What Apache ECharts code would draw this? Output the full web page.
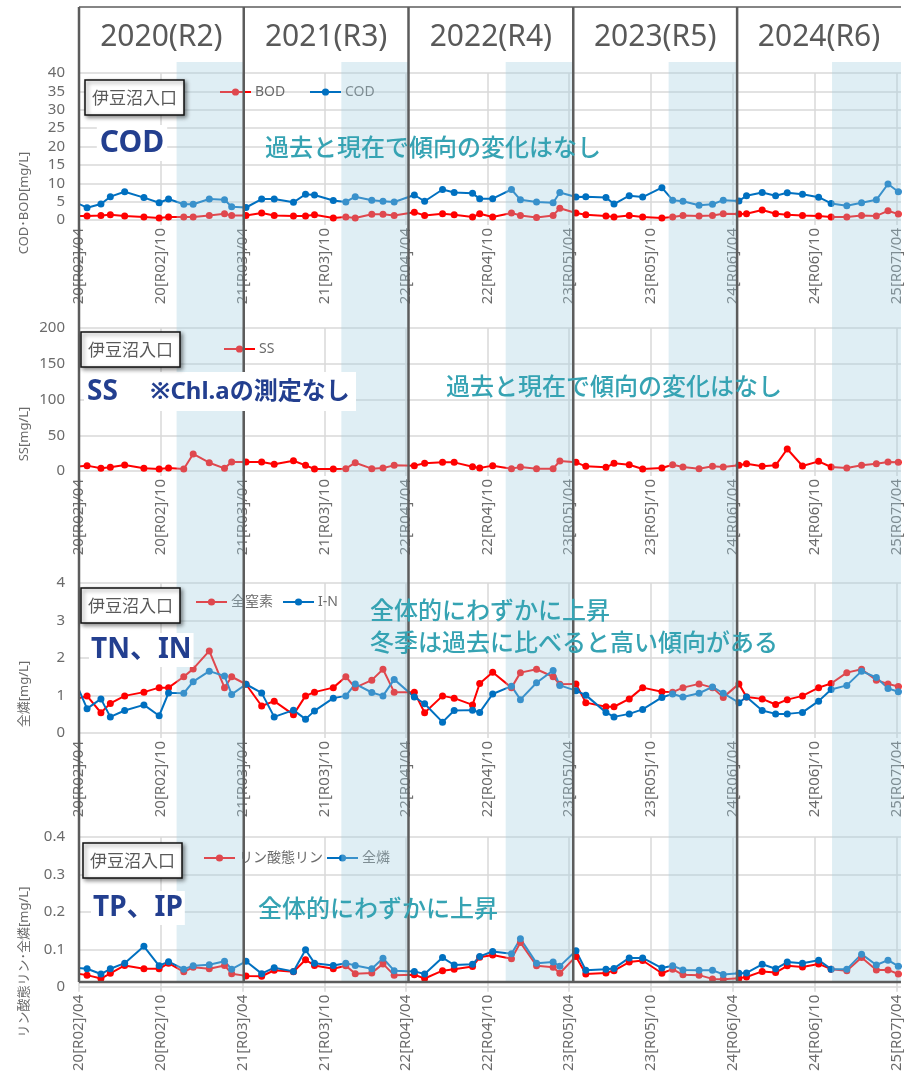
<!DOCTYPE html>
<html><head><meta charset="utf-8">
<script src="https://cdn.jsdelivr.net/npm/echarts@6/dist/echarts.min.js"></script>
<style>html,body{margin:0;padding:0;background:#fff}#c{width:904px;height:1074px}</style>
</head><body><div id="c"></div>
<script>
// ---------- data ----------
const sampleDates = [
 '2020-03-10',
 '2020-04-19','2020-05-20','2020-06-10','2020-07-12','2020-08-24','2020-09-27','2020-10-18','2020-11-21','2020-12-12','2021-01-17','2021-02-20','2021-03-08',
 '2021-04-09','2021-05-14','2021-06-11','2021-07-24','2021-08-20','2021-09-09','2021-10-21','2021-11-18','2021-12-09','2022-01-15','2022-02-09','2022-03-06',
 '2022-04-20','2022-05-13','2022-06-22','2022-07-18','2022-08-28','2022-09-13','2022-10-12','2022-11-23','2022-12-13','2023-01-18','2023-02-24','2023-03-11',
 '2023-04-16','2023-05-08','2023-06-22','2023-07-10','2023-08-13','2023-09-12','2023-10-25','2023-11-18','2023-12-11','2024-01-16','2024-02-15','2024-03-10',
 '2024-04-14','2024-05-01','2024-06-05','2024-07-05','2024-07-31','2024-09-03','2024-10-09','2024-11-06','2024-12-11','2025-01-13','2025-02-15','2025-03-13',
 '2025-04-05'
];
const bod = [1.1,
 1.1,1.25,1.45,1.1,0.8,0.55,0.8,0.8,0.8,1.25,1.7,1.25,
 1.25,1.9,1.25,1.1,1.1,1.45,0.55,0.8,0.55,1.55,1.55,1.25,
 2.1,1.25,1.7,1.4,0.8,1.7,0.8,1.9,1.25,0.7,1.25,3.2,
 1.9,1.45,1.1,0.8,1.25,0.8,0.55,0.8,1.25,1.1,1.25,1.7,
 1.6,1.7,2.7,1.7,1.45,1.25,1.1,0.8,0.8,1.25,1.1,2.5,
 1.6];
const cod = [5.6,
 3.35,4.35,6.35,7.7,6.1,4.7,5.7,4.3,4.3,5.7,5.5,3.6,
 3.4,5.7,5.7,4.8,7.0,6.8,5.3,4.9,6.35,5.4,5.1,4.9,
 6.8,5.1,8.3,7.5,7.25,5.8,5.8,8.3,5.5,4.9,4.7,7.5,
 6.25,6.35,6.15,4.35,6.6,6.25,8.8,5.4,5.1,4.0,4.3,5.4,
 5.2,6.6,7.5,6.6,7.4,7.0,6.2,4.5,3.9,4.7,5.5,9.8,
 7.7];
const ss = [5,
 7.5,3.7,5.1,8.4,3.7,2.8,4.2,2.8,23.8,11.6,3.7,12.6,
 12.6,12.6,9.3,14.4,7.9,2.8,2.8,3.3,11.6,3.3,4.2,7.9,
 7.5,10.7,12.1,12.1,6,4.2,7.5,3.3,5.6,3.3,3.3,14,
 12.1,6.5,5.1,10.7,8.8,2.8,4.2,8.8,5.6,3.3,6.5,5.6,
 7.9,10.2,6.5,7.9,30.8,7,13.5,5.6,4.2,7.9,10.2,12.6,
 12.1];
const tn = [0.85,
 0.99,0.54,0.79,0.99,1.09,1.21,1.21,1.5,1.71,2.19,1.21,1.5,
 1.3,0.72,0.85,0.49,0.99,1.09,1.21,1.5,1.21,1.41,1.7,1.09,
 1.09,0.54,0.99,0.93,0.75,1.32,1.62,1.21,1.61,1.7,1.5,1.3,
 1.31,0.81,0.7,0.7,0.91,1.21,1.1,1.09,1.21,1.31,1.21,0.95,
 1.31,0.96,0.91,0.76,0.89,0.99,1.21,1.32,1.61,1.7,1.41,1.31,
 1.24];
const inorgN = [1.75,
 0.65,0.91,0.43,0.6,0.75,0.46,1.07,1.06,1.37,1.65,1.52,1.03,
 1.3,1.07,0.43,0.61,0.37,0.59,0.93,0.99,1.31,1.08,0.99,1.43,
 0.96,0.78,0.29,0.6,0.61,0.55,1.04,1.25,0.89,1.34,1.67,1.27,
 1.13,1.01,0.55,0.43,0.51,0.63,0.95,1.04,0.96,1.06,1.23,1.06,
 0.81,0.96,0.6,0.51,0.51,0.55,0.85,1.16,1.27,1.65,1.48,1.19,
 1.1];
const ip = [0.038,
 0.031,0.022,0.036,0.057,0.048,0.048,0.063,0.04,0.052,0.048,0.057,0.035,
 0.029,0.028,0.044,0.04,0.072,0.057,0.048,0.056,0.035,0.037,0.061,0.031,
 0.032,0.022,0.043,0.047,0.054,0.079,0.085,0.075,0.118,0.056,0.052,0.036,
 0.081,0.034,0.037,0.043,0.066,0.07,0.036,0.047,0.032,0.031,0.021,0.02,
 0.023,0.026,0.041,0.038,0.056,0.053,0.061,0.047,0.043,0.078,0.045,0.045,
 0.034];
const tp = [0.052,
 0.048,0.034,0.048,0.063,0.108,0.056,0.067,0.047,0.056,0.059,0.068,0.047,
 0.068,0.035,0.051,0.041,0.099,0.063,0.057,0.063,0.057,0.048,0.076,0.043,
 0.041,0.034,0.078,0.058,0.06,0.081,0.094,0.088,0.128,0.063,0.066,0.055,
 0.096,0.044,0.047,0.049,0.077,0.077,0.05,0.056,0.045,0.044,0.044,0.033,
 0.036,0.037,0.06,0.048,0.066,0.063,0.071,0.047,0.047,0.087,0.058,0.071,
 0.055];
const tickDates = ['2020-04-01','2020-10-01','2021-04-01','2021-10-01','2022-04-01','2022-10-01','2023-04-01','2023-10-01','2024-04-01','2024-10-01','2025-04-01'];
const tickLabels = ['20[R02]/04','20[R02]/10','21[R03]/04','21[R03]/10','22[R04]/04','22[R04]/10','23[R05]/04','23[R05]/10','24[R06]/04','24[R06]/10','25[R07]/04'];
const yearHeaders = ['2020(R2)','2021(R3)','2022(R4)','2023(R5)','2024(R6)'];
const yearStarts = ['2020-04-01','2021-04-04','2022-04-07','2023-04-10','2024-04-10'];
const winterStarts = ['2020-11-05','2021-11-08','2022-11-10','2023-11-09','2024-11-08'];
const siteName = '伊豆沼入口';

// ---------- helpers ----------
const DAY = 86400000, origin = Date.UTC(2020,3,1);
function dayNum(s){ const p = s.split('-').map(Number); return (Date.UTC(p[0],p[1]-1,p[2]) - origin)/DAY; }
const sampleDays = sampleDates.map(dayNum);
const tickDays = tickDates.map(dayNum);
const X_MAX = 1836;
const GRAY = '#6b6b6b', GRID = '#d9d9d9', RED = '#ff0000', BLUE = '#0070c0';
const FONT = "'Noto Sans','Noto Sans CJK JP',sans-serif";

const panels = [
  {top:73, height:147, max:40, interval:5},
  {top:328, height:143, max:200, interval:50},
  {top:583, height:150, max:4, interval:1},
  {top:837, height:150, max:0.4, interval:0.1}
];
function pairs(arr){ return sampleDays.map((d,i)=>[d, arr[i]]); }
function lineSeries(name, arr, color, idx){
  return {type:'line', name, data:pairs(arr), xAxisIndex:idx, yAxisIndex:idx,
    symbol:'circle', symbolSize:7, showAllSymbol:true, color,
    lineStyle:{width:2, color}, itemStyle:{color}, z:3};
}
const option = {
  animation:false,
  textStyle:{fontFamily:FONT},
  grid: panels.map(p=>({left:79, width:825, top:p.top, height:p.height})),
  xAxis: panels.map((p,i)=>({
    type:'value', gridIndex:i, min:0, max:X_MAX, interval:182.625,
    axisLine:{show:false},
    axisTick:{show:true, length:5, customValues:tickDays, lineStyle:{color:GRID, width:1.5}},
    axisLabel:{customValues:tickDays, rotate:90, fontSize:15, color:GRAY, margin:8,
      formatter:(v)=>{ const k = tickDays.findIndex(t=>Math.abs(t-v)<1); return k>=0 ? tickLabels[k] : ''; }},
    splitLine:{show:true, lineStyle:{color:GRID, width:1.5}}
  })),
  yAxis: panels.map((p,i)=>({
    type:'value', gridIndex:i, min:0, max:p.max, interval:p.interval,
    axisLine:{show:false}, axisTick:{show:false},
    axisLabel:{fontSize:15, color:GRAY, margin:14},
    splitLine:{show:true, lineStyle:{color:GRID, width:1.5}}
  })),
  legend: [
    {name:'BOD', left:219, y:93},
    {name:'COD', left:309, y:93},
    {name:'SS', left:223, y:350},
    {name:'全窒素', left:195, y:603},
    {name:'I-N', left:282, y:603},
    {name:'リン酸態リン', left:203, y:859},
    {name:'全燐', left:326, y:859}
  ].map(l=>({data:[l.name], left:l.left, top:l.y-8, padding:0, itemWidth:31, itemHeight:9, itemGap:0,
    textStyle:{color:GRAY, fontSize:14, padding:[0,0,0,-1]}})),
  series: [
    lineSeries('BOD', bod, RED, 0),
    lineSeries('COD', cod, BLUE, 0),
    lineSeries('SS', ss, RED, 1),
    lineSeries('全窒素', tn, RED, 2),
    lineSeries('I-N', inorgN, BLUE, 2),
    lineSeries('リン酸態リン', ip, RED, 3),
    lineSeries('全燐', tp, BLUE, 3)
  ]
};
const chart = echarts.init(document.getElementById('c'), null, {renderer:'canvas'});
chart.setOption(option);

// ---------- overlay graphics ----------
const px = d => chart.convertToPixel({xAxisIndex:0}, d);
const g = [];
const TOP = 7, SHADE_TOP = 62, BOTTOM = 982, RIGHT = px(X_MAX);
winterStarts.forEach((s,i)=>{
  const x0 = px(dayNum(s));
  const x1 = i+1 < yearStarts.length ? px(dayNum(yearStarts[i+1])) : RIGHT;
  g.push({type:'rect', z:10, silent:true, shape:{x:x0, y:SHADE_TOP, width:x1-x0, height:BOTTOM-SHADE_TOP},
    style:{fill:'rgba(164,206,224,0.35)'}});
});
const sepX = yearStarts.map(s=>px(dayNum(s)));
sepX.forEach(x=>g.push({type:'line', z:15, silent:true, shape:{x1:x, y1:TOP, x2:x, y2:BOTTOM}, style:{stroke:'#5c5c5c', lineWidth:2.5}}));
g.push({type:'line', z:15, silent:true, shape:{x1:sepX[0], y1:TOP, x2:RIGHT, y2:TOP}, style:{stroke:'#5c5c5c', lineWidth:1.5}});
g.push({type:'line', z:15, silent:true, shape:{x1:sepX[0], y1:BOTTOM, x2:RIGHT, y2:BOTTOM}, style:{stroke:'#5c5c5c', lineWidth:2.5}});
yearHeaders.forEach((t,i)=>{
  const a = sepX[i], b = i+1<sepX.length ? sepX[i+1] : RIGHT;
  g.push({type:'text', z:15, x:(a+b)/2, y:37, style:{text:t, font:"30px 'Noto Sans'", fill:'#595959', align:'center', verticalAlign:'middle'}});
});
[['COD･BOD[mg/L]',203],['SS[mg/L]',434],['全燐[mg/L]',694],['リン酸態リン･全燐[mg/L]',962]].forEach(a=>{
  g.push({type:'text', z:15, x:24, y:a[1], rotation:Math.PI/2, style:{text:a[0], font:"13px 'Noto Sans','Noto Sans CJK JP'", fill:GRAY, align:'center', verticalAlign:'middle'}});
});
[[85,80],[81,332],[81,588],[83,843]].forEach(b=>{
  g.push({type:'rect', z:20, shape:{x:b[0], y:b[1], width:99, height:35},
    style:{fill:'#fff', stroke:'#111', lineWidth:1.5, shadowBlur:4, shadowColor:'rgba(0,0,0,0.45)', shadowOffsetX:2, shadowOffsetY:2}});
  g.push({type:'text', z:21, x:b[0]+49.5, y:b[1]+18, style:{text:siteName, font:"17px 'Noto Sans CJK JP'", fill:'#595959', align:'center', verticalAlign:'middle'}});
});
const NAVY = '#233f8f';
g.push({type:'text', z:20, x:132, y:143, style:{text:'COD', font:"bold 30px 'Noto Sans'", fill:NAVY, align:'center', verticalAlign:'middle', backgroundColor:'#fff', padding:[3,3,3,3]}});
g.push({type:'rect', z:19, shape:{x:84, y:372, width:272, height:39}, style:{fill:'#fff'}});
g.push({type:'text', z:20, x:87, y:392, style:{text:'SS', font:"bold 28px 'Noto Sans'", fill:NAVY, align:'left', verticalAlign:'middle'}});
g.push({type:'text', z:20, x:150, y:392, style:{text:'※Chl.aの測定なし', font:"bold 24px 'Noto Sans','Noto Sans CJK JP'", fill:NAVY, align:'left', verticalAlign:'middle'}});
g.push({type:'text', z:20, x:89, y:650, style:{text:'TN、IN', font:"bold 28px 'Noto Sans','Noto Sans CJK JP'", fill:NAVY, align:'left', verticalAlign:'middle', backgroundColor:'#fff', padding:[3,2,3,2]}});
g.push({type:'text', z:20, x:91, y:908, style:{text:'TP、IP', font:"bold 28px 'Noto Sans','Noto Sans CJK JP'", fill:NAVY, align:'left', verticalAlign:'middle', backgroundColor:'#fff', padding:[3,2,3,2]}});
const TEAL = '#36a3b3';
const TFONT = "500 24px 'Noto Sans CJK JP'";
[['過去と現在で傾向の変化はなし',265,147],['過去と現在で傾向の変化はなし',446,386],
 ['全体的にわずかに上昇',370,610],['冬季は過去に比べると高い傾向がある',370,642],['全体的にわずかに上昇',258,908]].forEach(t=>{
  g.push({type:'text', z:20, x:t[1], y:t[2], style:{text:t[0], font:TFONT, fill:TEAL, align:'left', verticalAlign:'middle'}});
});
chart.setOption({graphic:{elements:g}});
</script></body></html>
